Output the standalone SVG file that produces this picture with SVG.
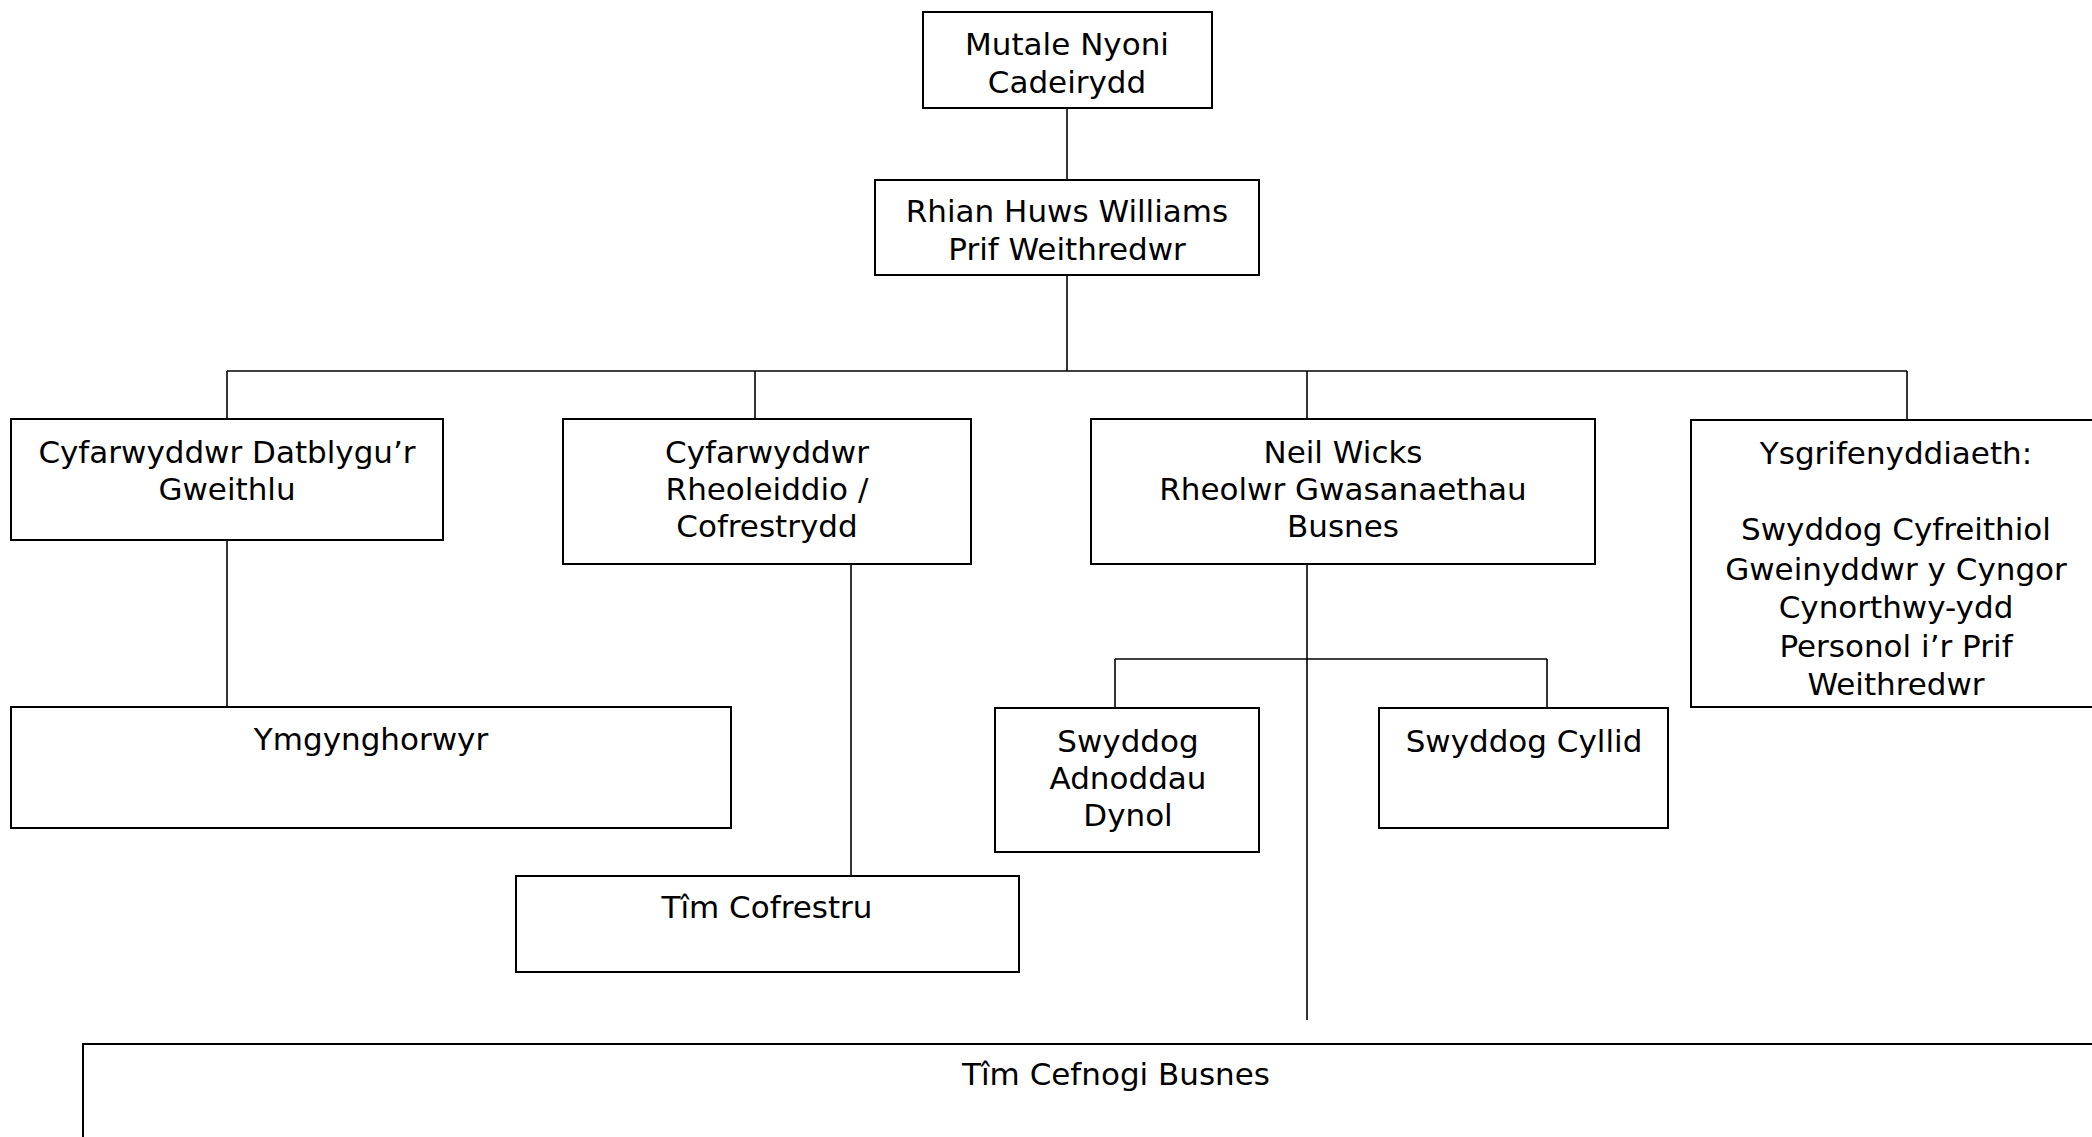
<svg xmlns="http://www.w3.org/2000/svg" width="2092" height="1137" viewBox="0 0 2092 1137">
<style>
  .box { fill: #ffffff; stroke: #000000; stroke-width: 2; }
  .lbl { font-family: "DejaVu Sans", Verdana, sans-serif; font-size: 31px; fill: #000000; text-anchor: middle; }
  .conn line { stroke: #000000; stroke-width: 1.6; }
</style>
<rect x="0" y="0" width="2092" height="1137" fill="#ffffff"/>
<g id="connectors" class="conn">
  <line x1="1067" y1="108" x2="1067" y2="180"/>
  <line x1="1067" y1="275" x2="1067" y2="371"/>
  <line x1="227" y1="371" x2="1907" y2="371"/>
  <line x1="227" y1="371" x2="227" y2="419"/>
  <line x1="755" y1="371" x2="755" y2="419"/>
  <line x1="1307" y1="371" x2="1307" y2="419"/>
  <line x1="1907" y1="371" x2="1907" y2="420"/>
  <line x1="227" y1="540" x2="227" y2="707"/>
  <line x1="851" y1="564" x2="851" y2="876"/>
  <line x1="1307" y1="564" x2="1307" y2="1020"/>
  <line x1="1115" y1="659" x2="1547" y2="659"/>
  <line x1="1115" y1="659" x2="1115" y2="708"/>
  <line x1="1547" y1="659" x2="1547" y2="708"/>
</g>
<g id="n-mutale">
  <rect class="box" x="923" y="12" width="289" height="96"/>
  <text class="lbl" x="1067" y="55">Mutale Nyoni</text>
  <text class="lbl" x="1067" y="93">Cadeirydd</text>
</g>
<g id="n-rhian">
  <rect class="box" x="875" y="180" width="384" height="95"/>
  <text class="lbl" x="1067" y="222">Rhian Huws Williams</text>
  <text class="lbl" x="1067" y="260">Prif Weithredwr</text>
</g>
<g id="n-datblygu">
  <rect class="box" x="11" y="419" width="432" height="121"/>
  <text class="lbl" x="227" y="463">Cyfarwyddwr Datblygu’r</text>
  <text class="lbl" x="227" y="500">Gweithlu</text>
</g>
<g id="n-rheoleiddio">
  <rect class="box" x="563" y="419" width="408" height="145"/>
  <text class="lbl" x="767" y="463">Cyfarwyddwr</text>
  <text class="lbl" x="767" y="500">Rheoleiddio /</text>
  <text class="lbl" x="767" y="537">Cofrestrydd</text>
</g>
<g id="n-neil">
  <rect class="box" x="1091" y="419" width="504" height="145"/>
  <text class="lbl" x="1343" y="463">Neil Wicks</text>
  <text class="lbl" x="1343" y="500">Rheolwr Gwasanaethau</text>
  <text class="lbl" x="1343" y="537">Busnes</text>
</g>
<g id="n-ysgrif">
  <rect class="box" x="1691" y="420" width="410" height="287"/>
  <text class="lbl" x="1896" y="464">Ysgrifenyddiaeth:</text>
  <text class="lbl" x="1896" y="540">Swyddog Cyfreithiol</text>
  <text class="lbl" x="1896" y="580">Gweinyddwr y Cyngor</text>
  <text class="lbl" x="1896" y="618">Cynorthwy-ydd</text>
  <text class="lbl" x="1896" y="657">Personol i’r Prif</text>
  <text class="lbl" x="1896" y="695">Weithredwr</text>
</g>
<g id="n-ymgynghorwyr">
  <rect class="box" x="11" y="707" width="720" height="121"/>
  <text class="lbl" x="371" y="750">Ymgynghorwyr</text>
</g>
<g id="n-adnoddau">
  <rect class="box" x="995" y="708" width="264" height="144"/>
  <text class="lbl" x="1128" y="752">Swyddog</text>
  <text class="lbl" x="1128" y="789">Adnoddau</text>
  <text class="lbl" x="1128" y="826">Dynol</text>
</g>
<g id="n-cyllid">
  <rect class="box" x="1379" y="708" width="289" height="120"/>
  <text class="lbl" x="1524" y="752">Swyddog Cyllid</text>
</g>
<g id="n-cofrestru">
  <rect class="box" x="516" y="876" width="503" height="96"/>
  <text class="lbl" x="767" y="918">Tîm Cofrestru</text>
</g>
<g id="n-cefnogi">
  <rect class="box" x="83" y="1044" width="2070" height="120" stroke-width="2.5"/>
  <text class="lbl" x="1116" y="1085">Tîm Cefnogi Busnes</text>
</g>
</svg>
